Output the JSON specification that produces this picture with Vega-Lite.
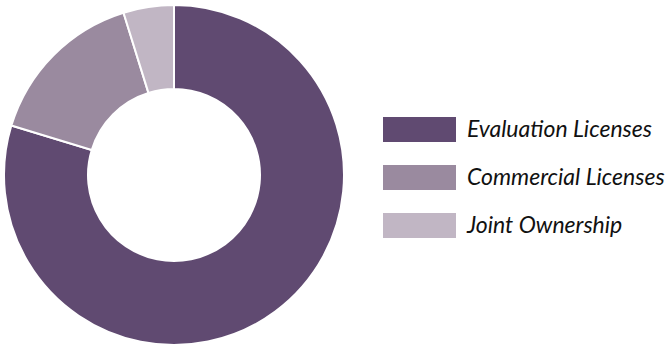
{
  "$schema": "https://vega.github.io/schema/vega-lite/v6.json",
  "width": 348,
  "height": 350,
  "padding": 0,
  "autosize": {"type": "pad"},
  "background": "white",
  "config": {"view": {"stroke": null}},
  "data": {
    "values": [
      {"category": "Evaluation Licenses", "value": 79.7},
      {"category": "Commercial Licenses", "value": 15.5},
      {"category": "Joint Ownership", "value": 4.8}
    ]
  },
  "mark": {"type": "arc", "outerRadius": 170, "innerRadius": 86, "stroke": "white", "strokeWidth": 2},
  "encoding": {
    "theta": {"field": "value", "type": "quantitative", "stack": true},
    "color": {
      "field": "category",
      "type": "nominal",
      "sort": ["Evaluation Licenses", "Commercial Licenses", "Joint Ownership"],
      "scale": {
        "domain": ["Evaluation Licenses", "Commercial Licenses", "Joint Ownership"],
        "range": ["#604a71", "#9a8a9f", "#c1b6c4"]
      },
      "legend": {
        "title": null,
        "orient": "none",
        "legendX": 407,
        "legendY": 117,
        "padding": 0,
        "symbolType": "M-2.92,-1H2.92V1H-2.92Z",
        "symbolSize": 625,
        "symbolStrokeWidth": 0,
        "symbolOpacity": 1,
        "labelOffset": 35,
        "labelFont": "Lato",
        "labelFontStyle": "italic",
        "labelFontSize": 23,
        "labelColor": "#111111",
        "labelLimit": 300,
        "rowPadding": 23
      }
    },
    "order": {"field": "value", "sort": "descending"}
  }
}
